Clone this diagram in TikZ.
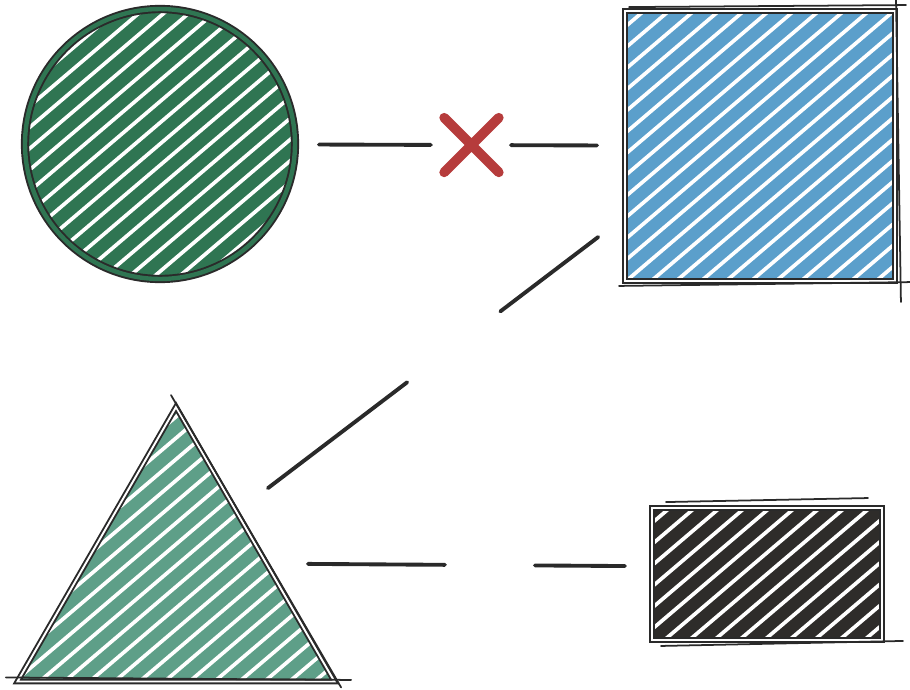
\documentclass[tikz,border=0pt]{standalone}
\usetikzlibrary{positioning,shapes.geometric,shapes.misc}
\definecolor{ink}{HTML}{2A2A2A}
\definecolor{circgreen}{HTML}{2F7552}
\definecolor{sqblue}{HTML}{5B9FCB}
\definecolor{trigreen}{HTML}{5E9F88}
\definecolor{rcblack}{HTML}{2E2C2A}
\definecolor{xred}{HTML}{B63C3C}
\tikzset{
	hatch/.style={path picture={\foreach \k in {-14,...,14}
			\draw[white, line width=2.1pt] ([xshift=\k*0.5cm]path picture bounding box.center) ++(-4cm,-3.4cm) -- ++(8cm,6.8cm);}},
	shapebox/.style={draw=ink, line width=1.1pt, double=white, double distance=1.1pt, hatch, inner sep=0pt},
	link/.style={draw=ink, line width=2.2pt, line cap=round},
	rough/.style={draw=ink, line width=1pt, line cap=round},
	nope/.style={cross out, draw=xred, solid, shorten <=0pt, shorten >=0pt, line width=5.5pt, line cap=round, minimum size=0.9cm, inner sep=0pt}
}

\begin{document}
\begin{tikzpicture}[x=0.02cm, y=-0.02cm]
			\useasboundingbox (0,0) rectangle (910,690);
			% shapes
			\node [shapebox, circle, fill=circgreen, double=circgreen, double distance=2.5pt, minimum size=5.4cm] (circ) at (160,144) {};
			\node [shapebox, rectangle, fill=sqblue, minimum size=5.4cm] (sq) at (760,146) {};
			\node [shapebox, regular polygon, regular polygon sides=3, fill=trigreen, minimum size=7.32cm] (tri) at (176,590) {};
			\node [shapebox, rectangle, fill=rcblack, minimum width=4.6cm, minimum height=2.64cm] (rc) at (767,574) {};
			% sketchy overshoot
			\draw [rough] ([xshift=0.1cm, yshift=0.06cm]sq.north west) -- ([xshift=0.2cm, yshift=0.1cm]sq.north east);
			\draw [rough] ([xshift=-0.1cm, yshift=-0.08cm]sq.south west) -- ([xshift=0.5cm]sq.south east);
			\draw [rough] ([yshift=0.3cm]sq.north east) -- ([xshift=0.1cm, yshift=-0.4cm]sq.south east);
			\draw [rough] ([xshift=0.3cm, yshift=0.1cm]rc.north west) -- ([xshift=-0.3cm, yshift=0.18cm]rc.north east);
			\draw [rough] ([xshift=0.2cm, yshift=-0.1cm]rc.south west) -- ([xshift=0.4cm]rc.south east);
			\draw [rough] ([xshift=-0.2cm, yshift=0.1cm]tri.corner 2) -- ([xshift=0.3cm, yshift=0.05cm]tri.corner 3);
			\draw [rough] ([xshift=-0.1cm, yshift=0.2cm]tri.corner 1) -- ([xshift=0.1cm, yshift=-0.1cm]tri.corner 3);
			% links
			\draw [link, shorten <=0.46cm, shorten >=0.54cm, dash pattern=on 2.24cm off 1.6cm on 1.76cm off 2cm] (circ) -- node [nope, pos=0.535] (cross) {} (sq);
			\draw [link, shorten <=2.31cm, shorten >=3.97cm, dash pattern=on 3.5cm off 2.34cm on 2.46cm off 2cm] ([yshift=0.64cm]tri.center) -- ([yshift=0.64cm]sq.center);
			\draw [link, shorten <=2.64cm, shorten >=2.84cm, dash pattern=on 2.74cm off 1.8cm on 1.8cm off 2cm] ([yshift=0.54cm]tri.center) -- ([yshift=0.14cm]rc.center);
		\end{tikzpicture}
\end{document}
